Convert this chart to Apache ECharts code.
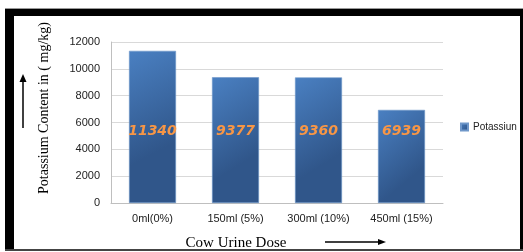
<!DOCTYPE html>
<html>
<head>
<meta charset="utf-8">
<script src="https://cdn.jsdelivr.net/npm/echarts@6/dist/echarts.min.js"></script>
<style>
  html, body { margin: 0; padding: 0; background: #fff; }
  #chart { width: 523px; height: 252px; }
</style>
</head>
<body>
<div id="chart"></div>
<script>
// data
var doses = ['0ml(0%)', '150ml (5%)', '300ml (10%)', '450ml (15%)']
var potassium = [11340, 9377, 9360, 6939]
var yTicks = { min: 0, max: 12000, step: 2000 }

var chart = echarts.init(document.getElementById('chart'))
var option = {
  animation: false,
  grid: { left: 111, right: 80, top: 42, bottom: 49 },
  legend: {
    left: 455,
    top: 117,
    icon: 'rect',
    itemWidth: 7,
    itemHeight: 7,
    itemGap: 4,
    textStyle: { fontFamily: 'Liberation Sans', fontSize: 10, color: '#222' },
    data: ['Potassiun']
  },
  xAxis: {
    type: 'category',
    data: doses,
    axisLine: { lineStyle: { color: '#bfbfbf' } },
    axisTick: { show: false },
    axisLabel: { fontFamily: 'Liberation Sans', fontSize: 11, color: '#222', margin: 10 }
  },
  yAxis: {
    type: 'value',
    min: yTicks.min,
    max: yTicks.max,
    interval: yTicks.step,
    axisLine: { show: true, lineStyle: { color: '#bfbfbf' } },
    axisTick: { show: false },
    splitLine: { lineStyle: { color: '#d9d9d9' } },
    axisLabel: {
      fontFamily: 'Liberation Sans', fontSize: 11, color: '#222', margin: 11,
      formatter: function (v) { return String(v) }
    }
  },
  series: [{
    name: 'Potassiun',
    type: 'bar',
    data: potassium,
    barWidth: 47,
    itemStyle: {
      borderColor: '#6f97c9',
      borderWidth: 0.6,
      color: {
        type: 'linear', x: 0, y: 0, x2: 1, y2: 0.6,
        colorStops: [{ offset: 0, color: '#4a80c2' }, { offset: 1, color: '#30568a' }]
      }
    },
    label: {
      show: true,
      position: 'insideBottom',
      distance: 65,
      fontFamily: 'DejaVu Sans',
      fontSize: 14,
      fontWeight: 'bold',
      fontStyle: 'italic',
      color: '#f79646'
    }
  }],
  graphic: [
    // frame
    { type: 'rect', shape: { x: 5, y: 8, width: 518, height: 1 }, style: { fill: '#999' } },
    { type: 'rect', shape: { x: 5, y: 9, width: 518, height: 7 }, style: { fill: '#000' } },
    { type: 'rect', shape: { x: 5, y: 9, width: 9, height: 242 }, style: { fill: '#000' } },
    { type: 'rect', shape: { x: 520, y: 9, width: 3, height: 242 }, style: { fill: '#000' } },
    { type: 'rect', shape: { x: 5, y: 249, width: 518, height: 2 }, style: { fill: '#444' } },
    // y axis title and arrow
    {
      type: 'text', x: 44, y: 108, rotation: Math.PI / 2,
      style: { text: 'Potassium Content in ( mg/kg)', font: '14px "Liberation Serif"', fill: '#000', align: 'center', verticalAlign: 'middle' }
    },
    { type: 'line', shape: { x1: 23, y1: 128, x2: 23, y2: 80 }, style: { stroke: '#000', lineWidth: 1.5 } },
    { type: 'polygon', shape: { points: [[23, 74], [19.5, 82], [26.5, 82]] }, style: { fill: '#000' } },
    // x axis title and arrow
    {
      type: 'text', x: 236, y: 243,
      style: { text: 'Cow Urine Dose', font: '15px "Liberation Serif"', fill: '#000', align: 'center', verticalAlign: 'middle' }
    },
    { type: 'line', shape: { x1: 325, y1: 242, x2: 380, y2: 242 }, style: { stroke: '#000', lineWidth: 1.5 } },
    { type: 'polygon', shape: { points: [[386, 242], [378, 239], [378, 245]] }, style: { fill: '#000' } }
  ]
}
chart.setOption(option)
window.addEventListener('resize', function () {
  chart.resize()
})
</script>
</body>
</html>
